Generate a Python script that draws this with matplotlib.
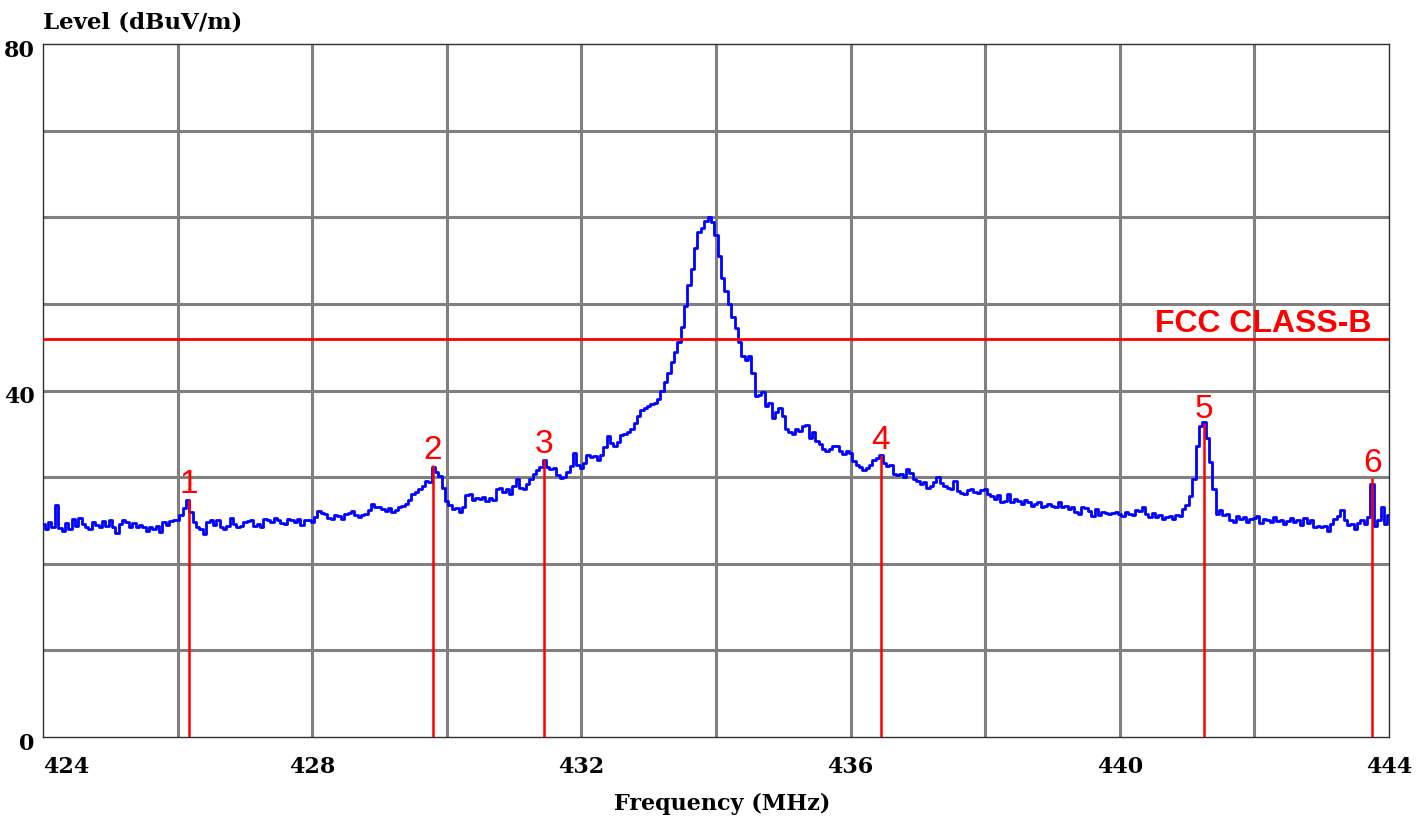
#!/usr/bin/env python
# coding: utf-8

import numpy as np
import matplotlib
matplotlib.use('Agg')
import matplotlib.pyplot as plt
from matplotlib import font_manager

# sweep: 424 - 444 MHz, 0.05 MHz per point (one row per MHz)
freq_start = 424.0
freq_stop = 444.0
level = [
    24.6, 24.0, 24.8, 24.3, 26.8, 24.1, 23.8, 24.7, 24.0, 25.2, 24.4, 25.3, 24.6, 24.3, 24.0, 24.8, 24.5, 24.2, 24.9, 24.4,
    25.0, 24.3, 23.6, 24.6, 25.0, 24.8, 24.2, 24.7, 24.2, 24.5, 24.2, 23.8, 24.3, 24.0, 24.4, 23.7, 24.8, 24.5, 24.9, 25.0,
    25.0, 25.6, 26.4, 27.4, 26.0, 24.8, 24.2, 24.0, 23.4, 24.8, 25.0, 24.5, 25.1, 24.2, 24.0, 24.4, 25.3, 24.6, 24.2, 24.4,
    24.8, 24.9, 25.1, 24.4, 24.6, 24.3, 25.2, 25.0, 24.8, 25.3, 25.0, 24.7, 24.6, 25.2, 25.0, 24.8, 25.2, 24.5, 25.1, 25.0,
    24.8, 25.4, 26.1, 25.9, 25.7, 25.3, 25.2, 25.6, 25.5, 25.2, 25.7, 25.9, 26.1, 25.6, 25.4, 25.6, 25.7, 26.2, 26.9, 26.6,
    26.5, 26.3, 26.1, 26.4, 26.0, 26.2, 26.5, 26.7, 26.9, 27.4, 28.0, 28.3, 28.6, 29.0, 29.6, 29.4, 31.2, 30.6, 30.1, 28.8,
    27.3, 26.8, 26.3, 26.4, 26.0, 26.6, 27.9, 28.0, 27.4, 27.6, 27.5, 27.7, 27.3, 27.6, 27.4, 28.6, 28.8, 28.3, 28.6, 28.0,
    29.0, 29.8, 28.8, 28.6, 29.2, 29.8, 30.4, 30.8, 31.2, 32.0, 31.2, 30.9, 31.0, 30.2, 29.9, 30.0, 30.6, 31.3, 32.8, 31.4,
    31.0, 31.6, 32.5, 32.3, 32.4, 32.0, 32.6, 33.5, 34.8, 33.9, 33.6, 34.0, 34.9, 35.0, 35.2, 35.6, 36.2, 37.0, 37.8, 38.0,
    38.2, 38.4, 38.6, 39.0, 40.0, 41.0, 42.0, 43.3, 44.5, 45.6, 47.3, 49.8, 52.2, 54.0, 56.5, 58.3, 58.8, 59.6, 60.0, 59.4,
    58.0, 55.5, 53.0, 51.5, 50.0, 48.5, 47.2, 45.6, 44.0, 43.5, 44.0, 42.0, 39.4, 39.5, 39.8, 38.2, 38.5, 36.8, 37.5, 38.0,
    37.0, 35.6, 35.2, 35.0, 35.5, 35.3, 35.9, 36.0, 34.5, 35.2, 34.2, 33.8, 33.2, 33.0, 33.2, 33.6, 33.6, 33.0, 32.7, 33.0,
    32.8, 31.9, 31.4, 31.2, 30.8, 31.0, 31.4, 32.0, 32.2, 32.6, 31.6, 31.3, 31.4, 30.4, 30.2, 30.4, 30.0, 30.9, 30.5, 29.8,
    29.6, 29.2, 29.4, 28.8, 29.0, 29.4, 30.0, 29.3, 29.0, 28.7, 28.6, 29.6, 28.4, 28.2, 28.0, 28.5, 28.6, 28.3, 28.2, 28.5,
    28.6, 28.0, 27.8, 27.5, 27.9, 27.1, 27.3, 28.0, 27.1, 27.5, 27.2, 26.9, 27.4, 27.1, 26.7, 26.9, 27.1, 26.6, 26.7, 26.9,
    26.7, 26.5, 27.1, 26.5, 26.7, 26.3, 26.6, 26.0, 25.7, 26.5, 26.4, 26.1, 25.5, 26.3, 25.6, 26.0, 25.9, 25.7, 25.9, 26.0,
    25.8, 25.5, 26.0, 25.8, 25.6, 26.2, 26.1, 26.6, 25.7, 25.4, 25.9, 25.4, 25.6, 25.2, 25.4, 25.5, 25.2, 25.6, 25.5, 26.3,
    26.8, 27.8, 29.8, 33.6, 35.9, 36.4, 34.5, 31.7, 28.6, 25.8, 26.2, 25.6, 25.8, 25.1, 24.8, 25.5, 25.2, 25.4, 24.8, 25.2,
    25.3, 25.5, 24.7, 25.2, 25.0, 24.8, 25.4, 24.9, 25.0, 24.6, 24.9, 25.3, 24.8, 25.0, 24.5, 25.3, 24.7, 25.1, 24.3, 24.4,
    24.2, 24.4, 23.8, 24.6, 25.2, 25.5, 26.2, 25.0, 24.5, 24.6, 24.0, 24.7, 25.0, 24.6, 25.4, 29.2, 24.4, 25.0, 26.6, 24.6,
    25.6,
]

# limit line and peak markers
fcc_limit = 46.0
fcc_name = 'FCC CLASS-B'
marker_freq = [426.17, 429.79, 431.44, 436.45, 441.25, 443.75]
marker_level = [27.5, 31.4, 32.1, 32.6, 36.2, 29.9]
marker_names = ['1', '2', '3', '4', '5', '6']

# axis ticks
x_label_ticks = [424, 428, 432, 436, 440, 444]
y_label_ticks = [0, 40, 80]
x_grid = [426, 428, 430, 432, 434, 436, 438, 440, 442]
y_grid = [10, 20, 30, 40, 50, 60, 70]

installed = {f.name for f in font_manager.fontManager.ttflist}
if 'Liberation Sans Narrow' in installed:
    mark_font, mark_size, fcc_size = 'Liberation Sans Narrow', 27, 27
else:
    mark_font, mark_size, fcc_size = 'Liberation Sans', 24, 23
label_font = 'DejaVu Serif'

freq = np.linspace(freq_start, freq_stop, len(level))

fig = plt.figure(figsize=(14.25, 8.23), dpi=100, facecolor='white')
ax = fig.add_axes([43 / 1425, 86 / 823, 1346 / 1425, 693 / 823])

ax.plot(freq, level, color='#0000ff', linewidth=2.0, drawstyle='steps-mid', zorder=3)
ax.axhline(fcc_limit, color='#ff0000', linewidth=2.0, zorder=4)
ax.annotate(fcc_name, xy=(0.987, fcc_limit), xycoords=('axes fraction', 'data'),
            xytext=(0, 5), textcoords='offset points', ha='right', va='baseline',
            color='#ff0000', fontsize=fcc_size, fontweight='bold', family=[mark_font, 'DejaVu Sans'])

ax.vlines(marker_freq, 0, marker_level, color='#ff0000', linewidth=1.8, zorder=5)
for f, l, name in zip(marker_freq, marker_level, marker_names):
    ax.annotate(name, xy=(f, l), xytext=(0, 4), textcoords='offset points', ha='center', va='baseline',
                color='#ff0000', fontsize=mark_size, family=[mark_font, 'DejaVu Sans'])

ax.set_xlim(freq_start, freq_stop)
ax.set_ylim(0, 80)

ax.set_xticks(x_label_ticks)
ax.set_xticklabels([str(t) for t in x_label_ticks], fontsize=16, fontweight='bold', family=label_font)
ax.get_xticklabels()[0].set_horizontalalignment('left')
ax.set_yticks(y_label_ticks)
ax.set_yticklabels([])
# y labels sit a little below their grid level in the original
for t in y_label_ticks:
    ax.annotate(str(t), xy=(0, t), xycoords=('axes fraction', 'data'), xytext=(-6, -5),
                textcoords='offset points', ha='right', va='center', annotation_clip=False,
                fontsize=16, fontweight='bold', family=label_font)
ax.set_xticks(x_grid, minor=True)
ax.set_yticks(y_grid, minor=True)
ax.xaxis.remove_overlapping_locs = False
ax.yaxis.remove_overlapping_locs = False
ax.tick_params(which='both', length=0)
ax.tick_params(axis='x', which='major', pad=14)
ax.grid(which='minor', color='#808080', linewidth=2.2)
ax.grid(which='major', visible=False)
ax.set_axisbelow(True)
for side in ['left', 'right', 'top', 'bottom']:
    ax.spines[side].set_color('#303030')
    ax.spines[side].set_linewidth(1.0)

fig.text(43 / 1425, 1 - 28 / 823, 'Level (dBuV/m)', ha='left', va='baseline',
         fontsize=16.5, fontweight='bold', family=label_font)
fig.text(722 / 1425, 1 - 810 / 823, 'Frequency (MHz)', ha='center', va='baseline',
         fontsize=16, fontweight='bold', family=label_font)

fig.savefig('out.png', dpi=100, facecolor='white')
plt.close(fig)
